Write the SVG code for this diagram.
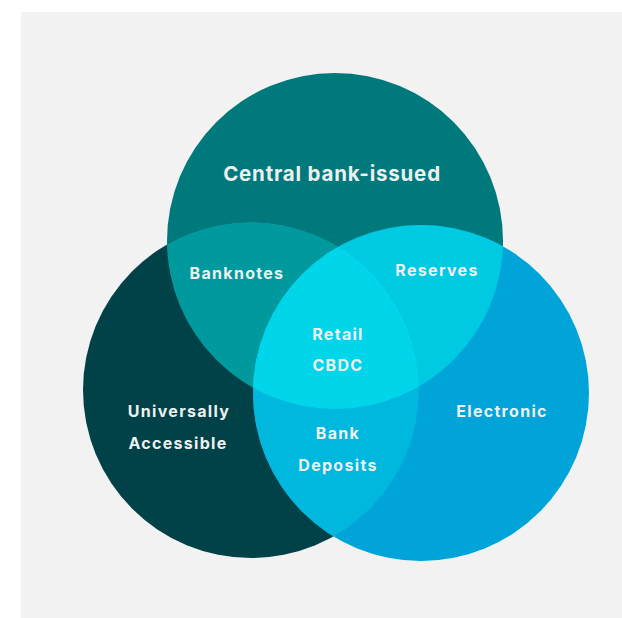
<svg xmlns="http://www.w3.org/2000/svg" width="622" height="618" viewBox="0 0 622 618">
  <defs>
    <clipPath id="clipTop"><circle cx="335" cy="241" r="168"/></clipPath>
    <clipPath id="clipLeft"><circle cx="251" cy="390" r="168"/></clipPath>
    <clipPath id="clipRight"><circle cx="421" cy="393" r="168"/></clipPath>
    <style>
      .lbl { font-family: Inter, "Liberation Sans", sans-serif; font-weight: 700; fill: #eef0f0; text-anchor: middle; font-size: 16px; letter-spacing: 1.3px; }
      .title { font-size: 20.5px; letter-spacing: 0.8px; }
    </style>
  </defs>
  <rect x="21" y="12" width="601" height="606" fill="#f2f2f2"/>
  <g id="circles">
    <g id="central-bank-issued"><circle cx="335" cy="241" r="168" fill="#00797d"/></g>
    <g id="universally-accessible"><circle cx="251" cy="390" r="168" fill="#004247"/></g>
    <g id="electronic"><circle cx="421" cy="393" r="168" fill="#00a4d9"/></g>
    <g id="banknotes-region" clip-path="url(#clipTop)"><circle cx="251" cy="390" r="168" fill="#009a9e"/></g>
    <g id="reserves-region" clip-path="url(#clipTop)"><circle cx="421" cy="393" r="168" fill="#00c9e2"/></g>
    <g id="deposits-region" clip-path="url(#clipLeft)"><circle cx="421" cy="393" r="168" fill="#00b7de"/></g>
    <g id="cbdc-region" clip-path="url(#clipTop)"><g clip-path="url(#clipLeft)"><circle cx="421" cy="393" r="168" fill="#00d5ea"/></g></g>
  </g>
  <g id="labels">
    <text class="lbl title" x="332" y="181">Central bank-issued</text>
    <text class="lbl" x="237" y="279">Banknotes</text>
    <text class="lbl" x="437" y="276">Reserves</text>
    <text class="lbl" x="338" y="340">Retail</text>
    <text class="lbl" x="338" y="371">CBDC</text>
    <text class="lbl" x="179" y="417">Universally</text>
    <text class="lbl" x="178" y="449">Accessible</text>
    <text class="lbl" x="502" y="417">Electronic</text>
    <text class="lbl" x="338" y="439">Bank</text>
    <text class="lbl" x="338" y="471">Deposits</text>
  </g>
</svg>
